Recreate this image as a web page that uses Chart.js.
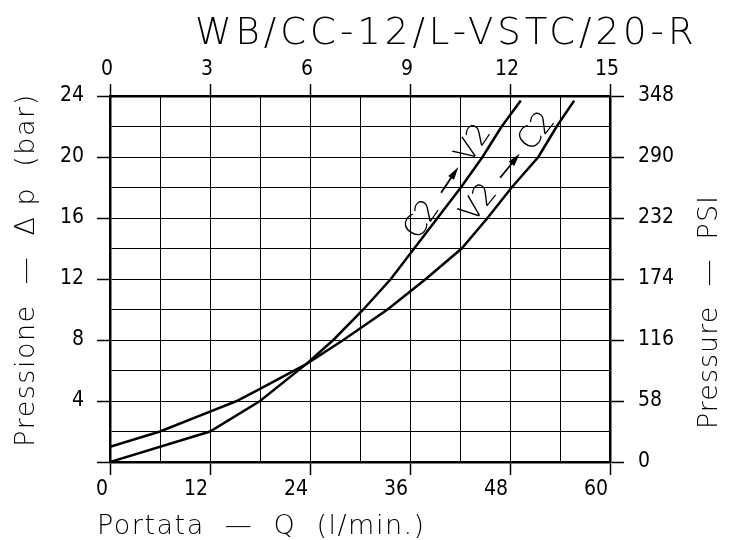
<!DOCTYPE html>
<html>
<head>
<meta charset="utf-8">
<script src="https://cdn.jsdelivr.net/npm/chart.js@4/dist/chart.umd.min.js"></script>
<style>
  html, body { margin: 0; padding: 0; background: #fff; }
  #wrap { width: 733px; height: 540px; }
</style>
</head>
<body>
<div id="wrap"><canvas id="chart"></canvas></div>
<script>
// curve C2 -> V2 : flow (l/min) and pressure drop (bar)
const c2v2Flow = [0, 12, 18, 23.5, 26.8, 30.4, 33.7, 36.5, 39.3, 42.1, 44.7, 47.0, 49.3];
const c2v2Bar  = [0, 2, 4, 6.4, 8, 10, 12, 14, 16, 18, 20, 22, 23.7];

// curve V2 -> C2
const v2c2Flow = [0, 6, 12, 15.2, 18, 23.5, 28, 33.3, 37.9, 42.2, 45.3, 48.2, 51.4, 53.6, 55.7];
const v2c2Bar  = [1, 2, 3.3, 4, 4.8, 6.4, 8, 10, 12, 14, 16, 18, 20, 22, 23.7];

// tick labels
const flowTicks = [0, 12, 24, 36, 48, 60];      // l/min, bottom
const gpmTicks  = [0, 3, 6, 9, 12, 15];         // US gpm, top
const barTicks  = [4, 8, 12, 16, 20, 24];       // bar, left
const psiTicks  = [0, 58, 116, 174, 232, 290, 348]; // psi, right

const chartTitle = "WB/CC-12/L-VSTC/20-R";
const tickFont = { family: '"Liberation Sans Narrow", "DejaVu Sans Condensed", sans-serif', size: 21 };
const textFont = '"DejaVu Sans", sans-serif';

function toPoints(xs, ys) {
  return xs.map((x, i) => ({ x: x, y: ys[i] }));
}

// title, axis titles and curve labels
const textPlugin = {
  id: 'texts',
  afterDraw(chart) {
    const ctx = chart.ctx;
    const x = chart.scales.x, y = chart.scales.y;
    ctx.save();
    ctx.fillStyle = '#000';
    ctx.strokeStyle = '#000';

    ctx.font = '200 37px ' + textFont;
    ctx.textAlign = 'left';
    ctx.textBaseline = 'alphabetic';
    ctx.letterSpacing = '4px';
    ctx.fillText(chartTitle, 195, 44);

    ctx.font = '200 27px ' + textFont;
    ctx.letterSpacing = '1.5px';
    ctx.fillText('Portata  —  Q  (l/min.)', 97, 534);

    ctx.save();
    ctx.translate(34, 270);
    ctx.rotate(-Math.PI / 2);
    ctx.textAlign = 'center';
    ctx.fillText('Pressione  —  Δ p  (bar)', 0, 0);
    ctx.restore();

    ctx.save();
    ctx.translate(717, 312);
    ctx.rotate(-Math.PI / 2);
    ctx.textAlign = 'center';
    ctx.letterSpacing = '1px';
    ctx.fillText('Pressure  —  PSI', 0, 0);
    ctx.restore();

    ctx.letterSpacing = '0px';
    curveLabel(ctx, x.getPixelForValue(40.6), y.getPixelForValue(18.36), 56, 'C2', 'V2');
    curveLabel(ctx, x.getPixelForValue(47.8), y.getPixelForValue(19.3), 51, 'V2', 'C2');
    ctx.restore();
  }
};

function curveLabel(ctx, cx, cy, angle, from, to) {
  ctx.save();
  ctx.translate(cx, cy);
  ctx.rotate(-angle * Math.PI / 180);
  ctx.font = '200 30px ' + textFont;
  ctx.textAlign = 'center';
  ctx.textBaseline = 'middle';
  ctx.fillText(from, -46, 0);
  ctx.fillText(to, 46, 0);
  ctx.lineWidth = 1.8;
  ctx.beginPath();
  ctx.moveTo(-13, 0);
  ctx.lineTo(8, 0);
  ctx.stroke();
  ctx.beginPath();
  ctx.moveTo(18, 0);
  ctx.lineTo(5, -3.5);
  ctx.lineTo(5, 3.5);
  ctx.closePath();
  ctx.fill();
  ctx.restore();
}

function markAt(list, v) {
  return list.includes(Math.round(v * 100) / 100);
}

new Chart(document.getElementById('chart'), {
  type: 'line',
  data: {
    datasets: [
      { label: 'C2 -> V2', data: toPoints(c2v2Flow, c2v2Bar), xAxisID: 'x', yAxisID: 'y',
        borderColor: '#000', borderWidth: 2.5, pointRadius: 0, tension: 0, fill: false },
      { label: 'V2 -> C2', data: toPoints(v2c2Flow, v2c2Bar), xAxisID: 'x', yAxisID: 'y',
        borderColor: '#000', borderWidth: 2.5, pointRadius: 0, tension: 0, fill: false }
    ]
  },
  options: {
    responsive: true,
    maintainAspectRatio: false,
    animation: false,
    layout: { padding: 0 },
    plugins: { legend: { display: false }, tooltip: { enabled: false }, title: { display: false } },
    scales: {
      x: {
        type: 'linear', position: 'bottom', min: 0, max: 60,
        afterFit: s => { s.height = 78; },
        ticks: {
          stepSize: 6, padding: 2, align: 'end', labelOffset: -2, color: '#000', font: tickFont,
          autoSkip: false, maxRotation: 0,
          callback: v => markAt(flowTicks, v) ? String(v) : ''
        },
        grid: {
          color: '#000', lineWidth: 1, tickLength: 13, tickWidth: 1.5,
          tickColor: c => markAt(flowTicks, c.tick.value) ? '#000' : 'rgba(0,0,0,0)'
        },
        border: { color: '#000', width: 2.5 }
      },
      x2: {
        type: 'linear', position: 'top', min: 0, max: 15,
        afterFit: s => { s.height = 96; },
        ticks: {
          stepSize: 3, padding: 2, labelOffset: -3, color: '#000', font: tickFont,
          autoSkip: false, maxRotation: 0,
          callback: v => markAt(gpmTicks, v) ? String(v) : ''
        },
        grid: { drawOnChartArea: false, color: '#000', tickLength: 12, tickWidth: 1.5 },
        border: { color: '#000', width: 2.5 }
      },
      y: {
        type: 'linear', position: 'left', min: 0, max: 24,
        afterFit: s => { s.width = 110; },
        ticks: {
          stepSize: 2, padding: 13, color: '#000', font: tickFont, autoSkip: false,
          callback: v => markAt(barTicks, v) ? String(v) : ''
        },
        grid: {
          color: '#000', lineWidth: 1, tickLength: 13, tickWidth: 1.5,
          tickColor: c => (c.tick.value % 4 === 0) ? '#000' : 'rgba(0,0,0,0)'
        },
        border: { color: '#000', width: 2.5 }
      },
      y2: {
        type: 'linear', position: 'right', min: 0, max: 348,
        afterFit: s => { s.width = 123; },
        ticks: {
          stepSize: 29, padding: 14, color: '#000', font: tickFont, autoSkip: false,
          callback: v => markAt(psiTicks, v) ? String(v) : ''
        },
        grid: {
          drawOnChartArea: false, color: '#000', tickLength: 14, tickWidth: 1.5,
          tickColor: c => markAt(psiTicks, c.tick.value) ? '#000' : 'rgba(0,0,0,0)'
        },
        border: { color: '#000', width: 2.5 }
      }
    }
  },
  plugins: [textPlugin]
});
</script>
</body>
</html>
